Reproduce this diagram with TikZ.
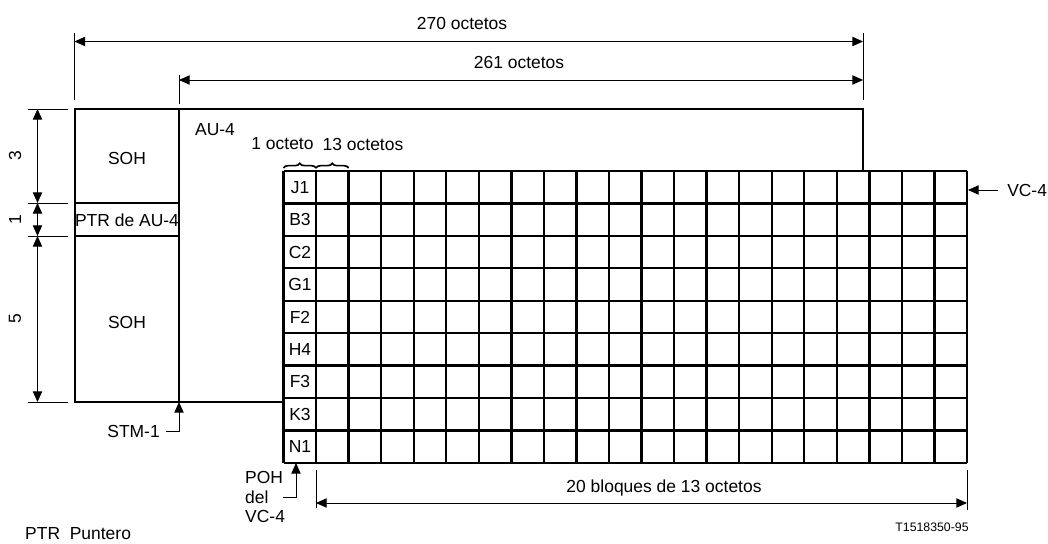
\documentclass[tikz,border=0pt]{standalone}
\usepackage{fontspec}
\setmainfont{Liberation Sans}
\usetikzlibrary{arrows.meta,positioning,calc,decorations.pathreplacing}

\begin{document}
\begin{tikzpicture}[
    x=0.03cm, y=-0.03cm,
    lbl/.style={inner sep=0pt, font=\fontsize{14.9}{17}\selectfont},
    frame/.style={line width=2pt},
    ext/.style={line width=0.8pt},
    dim/.style={{Triangle[length=3.2mm,width=2.8mm]}-{Triangle[length=3.2mm,width=2.8mm]}, line width=0.8pt},
    arrow/.style={-{Triangle[length=3.2mm,width=2.8mm]}, line width=0.8pt}
]
    \useasboundingbox (0,0) rectangle (1048,544);

    % STM-1 / AU-4 frame
    \coordinate (tl) at (75,109);
    \coordinate (tr) at (863,109);
    \coordinate (trb) at (863,171);
    \coordinate (bl) at (75,402);
    \coordinate (bm) at (283.5,402);
    \coordinate (pt) at (179,109);
    \coordinate (pb) at (179,402);
    \draw[frame] (trb) -- (tr) -- (tl) -- (bl) -- (bm);
    \draw[frame] (pt) -- (pb);
    \draw[frame] (75,203) -- (179,203);
    \draw[frame] (75,236) -- (179,236);

    \node[lbl] (soh1) at (127,158) {SOH};
    \node[lbl] (ptr) at (127,220) {PTR de AU-4};
    \node[lbl] (soh2) at (127,322) {SOH};
    \node[lbl] (au4) at (215,130) {AU-4};

    % VC-4 grid
    \foreach \i in {0,...,21}
        \draw[frame] ({283.5+\i*32.55},171) -- ({283.5+\i*32.55},463);
    \foreach \j in {0,...,9}
        \draw[frame] (283.5,{171+\j*32.44}) -- (967,{171+\j*32.44});
    \foreach \t [count=\k] in {J1,B3,C2,G1,F2,H4,F3,K3,N1}
        \node[lbl] (r\k) at (300,{171+(\k-0.5)*32.44}) {\t};

    % braces
    \draw[decorate, decoration={brace, amplitude=4pt}, line width=1.4pt] (283.5,168) -- (316,168);
    \draw[decorate, decoration={brace, amplitude=4pt}, line width=1.4pt] (316,168) -- (348.6,168);
    \node[lbl] (one) at (282.5,144) {1 octeto};
    \node[lbl] (thirteen) at (363,144) {13 octetos};

    % top dimensions
    \draw[ext] (74.5,33) -- (74.5,100);
    \draw[ext] (179,75) -- (179,104);
    \draw[ext] (863,33) -- (863,100);
    \coordinate (a1) at (74.5,41.5);
    \coordinate (a2) at (863,41.5);
    \coordinate (b1) at (179,80);
    \coordinate (b2) at (863,80);
    \draw[dim] (a1) -- (a2);
    \draw[dim] (b1) -- (b2);
    \node[lbl] (t270) at (462,23) {270 octetos};
    \node[lbl] (t261) at (519,62) {261 octetos};

    % left dimensions
    \foreach \y in {109,203,236,402}
        \draw[ext] (28,\y) -- (68,\y);
    \coordinate (v0) at (37.5,109);
    \coordinate (v1) at (37.5,203);
    \coordinate (v2) at (37.5,236);
    \coordinate (v3) at (37.5,402);
    \draw[dim] (v0) -- (v1);
    \draw[dim] (v1) -- (v2);
    \draw[dim] (v2) -- (v3);
    \node[lbl, rotate=90] (d3) at (15,156) {3};
    \node[lbl, rotate=90] (d1) at (15,219.5) {1};
    \node[lbl, rotate=90] (d5) at (15,319) {5};

    % VC-4 pointer
    \coordinate (vcA) at (998,190);
    \coordinate (vcB) at (968,190);
    \draw[arrow] (vcA) -- (vcB);
    \node[lbl, anchor=west] (vc4) at (1007,190) {VC-4};

    % STM-1 pointer
    \coordinate (stmA) at (166,431);
    \coordinate (stmB) at (179,431);
    \draw[arrow] (stmA) -- (stmB) -- (pb);
    \node[lbl, anchor=east] (stm) at (160,431) {STM-1};

    % POH pointer
    \coordinate (pohA) at (283,497);
    \coordinate (pohB) at (296,497);
    \coordinate (pohC) at (296,463);
    \draw[arrow] (pohA) -- (pohB) -- (pohC);
    \node[lbl, anchor=west, align=left] (poh) at (245,497) {POH\\del\\VC-4};

    % bottom dimension
    \draw[ext] (316,470) -- (316,508);
    \draw[ext] (967,470) -- (967,510);
    \coordinate (c1) at (316,503);
    \coordinate (c2) at (967,503);
    \draw[dim] (c1) -- (c2);
    \node[lbl] (t20) at (664,488) {20 bloques de 13 octetos};

    \node[inner sep=0pt, font=\fontsize{10.5}{12}\selectfont] (fig) at (932,527) {T1518350-95};
    \node[lbl, anchor=west] (leg) at (25,534) {PTR\ \ Puntero};
\end{tikzpicture}
\end{document}
